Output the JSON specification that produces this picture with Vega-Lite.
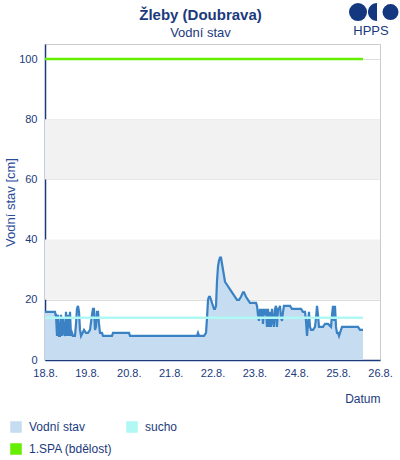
{
  "$schema": "https://vega.github.io/schema/vega-lite/v6.json",
  "width": 335,
  "height": 316,
  "autosize": "none",
  "padding": {"left": 45, "top": 44, "right": 20, "bottom": 100},
  "background": "white",
  "config": {
    "font": "Liberation Sans",
    "view": {"stroke": "#cccccc"}
  },
  "title": {
    "text": "Žleby (Doubrava)",
    "subtitle": "Vodní stav",
    "fontSize": 15,
    "fontWeight": "bold",
    "color": "#1b3a7c",
    "subtitleColor": "#1b3a7c",
    "subtitleFontSize": 13,
    "anchor": "middle",
    "dx": -12,
    "dy": 41,
    "offset": 4,
    "subtitlePadding": 4
  },
  "datasets": {
    "pasma": [{"od": 20, "do": 40}, {"od": 60, "do": 80}],
    "meze": [
      {"nazev": "sucho", "cm": 14, "od": 18, "do": 25.594},
      {"nazev": "1.SPA (bdělost)", "cm": 100, "od": 18, "do": 25.594}
    ],
    "stav": [
      {"den": 18.000, "cm": 16}, {"den": 18.239, "cm": 16}, {"den": 18.251, "cm": 15}, {"den": 18.263, "cm": 15},
      {"den": 18.287, "cm": 8}, {"den": 18.310, "cm": 15}, {"den": 18.334, "cm": 8}, {"den": 18.358, "cm": 8},
      {"den": 18.382, "cm": 15}, {"den": 18.406, "cm": 8}, {"den": 18.430, "cm": 14}, {"den": 18.454, "cm": 9},
      {"den": 18.478, "cm": 8}, {"den": 18.501, "cm": 16}, {"den": 18.525, "cm": 8}, {"den": 18.549, "cm": 15},
      {"den": 18.573, "cm": 8}, {"den": 18.597, "cm": 16}, {"den": 18.621, "cm": 8}, {"den": 18.645, "cm": 9},
      {"den": 18.669, "cm": 8}, {"den": 18.716, "cm": 8}, {"den": 18.740, "cm": 12}, {"den": 18.764, "cm": 17},
      {"den": 18.788, "cm": 18}, {"den": 18.812, "cm": 16}, {"den": 18.836, "cm": 10}, {"den": 18.860, "cm": 8},
      {"den": 18.931, "cm": 10}, {"den": 18.979, "cm": 9}, {"den": 19.027, "cm": 9}, {"den": 19.075, "cm": 10},
      {"den": 19.122, "cm": 15}, {"den": 19.146, "cm": 17}, {"den": 19.170, "cm": 17}, {"den": 19.194, "cm": 10},
      {"den": 19.218, "cm": 11}, {"den": 19.242, "cm": 16}, {"den": 19.266, "cm": 16}, {"den": 19.290, "cm": 12},
      {"den": 19.313, "cm": 9}, {"den": 19.361, "cm": 9}, {"den": 19.385, "cm": 8}, {"den": 19.600, "cm": 8},
      {"den": 19.624, "cm": 9}, {"den": 20.006, "cm": 9}, {"den": 20.030, "cm": 8}, {"den": 21.630, "cm": 8},
      {"den": 21.654, "cm": 9}, {"den": 21.678, "cm": 8}, {"den": 21.797, "cm": 8}, {"den": 21.845, "cm": 9},
      {"den": 21.869, "cm": 14}, {"den": 21.893, "cm": 20}, {"den": 21.916, "cm": 21}, {"den": 21.940, "cm": 21},
      {"den": 21.964, "cm": 20}, {"den": 21.988, "cm": 19}, {"den": 22.012, "cm": 18}, {"den": 22.036, "cm": 17},
      {"den": 22.060, "cm": 17}, {"den": 22.084, "cm": 18}, {"den": 22.107, "cm": 26}, {"den": 22.131, "cm": 31},
      {"den": 22.155, "cm": 33}, {"den": 22.179, "cm": 34}, {"den": 22.203, "cm": 34}, {"den": 22.227, "cm": 32},
      {"den": 22.251, "cm": 30}, {"den": 22.275, "cm": 28}, {"den": 22.299, "cm": 26}, {"den": 22.346, "cm": 25},
      {"den": 22.394, "cm": 24}, {"den": 22.442, "cm": 23}, {"den": 22.490, "cm": 22}, {"den": 22.537, "cm": 21},
      {"den": 22.585, "cm": 20}, {"den": 22.633, "cm": 20}, {"den": 22.681, "cm": 21}, {"den": 22.728, "cm": 22.5},
      {"den": 22.752, "cm": 22.5}, {"den": 22.800, "cm": 21}, {"den": 22.848, "cm": 20}, {"den": 22.896, "cm": 19},
      {"den": 22.967, "cm": 19}, {"den": 23.039, "cm": 19}, {"den": 23.063, "cm": 18}, {"den": 23.087, "cm": 15},
      {"den": 23.110, "cm": 13}, {"den": 23.134, "cm": 17}, {"den": 23.158, "cm": 14}, {"den": 23.182, "cm": 17},
      {"den": 23.206, "cm": 12}, {"den": 23.230, "cm": 17}, {"den": 23.254, "cm": 15}, {"den": 23.278, "cm": 17},
      {"den": 23.301, "cm": 11}, {"den": 23.325, "cm": 17}, {"den": 23.349, "cm": 11}, {"den": 23.373, "cm": 16},
      {"den": 23.397, "cm": 11}, {"den": 23.421, "cm": 17}, {"den": 23.445, "cm": 13}, {"den": 23.469, "cm": 11},
      {"den": 23.493, "cm": 17}, {"den": 23.516, "cm": 18}, {"den": 23.540, "cm": 11}, {"den": 23.564, "cm": 17},
      {"den": 23.588, "cm": 17}, {"den": 23.612, "cm": 18}, {"den": 23.636, "cm": 14}, {"den": 23.660, "cm": 13},
      {"den": 23.684, "cm": 16}, {"den": 23.707, "cm": 18}, {"den": 23.755, "cm": 18}, {"den": 23.851, "cm": 18},
      {"den": 23.899, "cm": 17}, {"den": 24.042, "cm": 17}, {"den": 24.113, "cm": 17}, {"den": 24.161, "cm": 16},
      {"den": 24.209, "cm": 16}, {"den": 24.233, "cm": 13}, {"den": 24.257, "cm": 8}, {"den": 24.281, "cm": 12},
      {"den": 24.304, "cm": 16}, {"den": 24.328, "cm": 11}, {"den": 24.352, "cm": 10}, {"den": 24.400, "cm": 10},
      {"den": 24.448, "cm": 11}, {"den": 24.472, "cm": 14}, {"den": 24.496, "cm": 18}, {"den": 24.519, "cm": 15},
      {"den": 24.543, "cm": 11}, {"den": 24.591, "cm": 11}, {"den": 24.639, "cm": 11}, {"den": 24.687, "cm": 12},
      {"den": 24.758, "cm": 12}, {"den": 24.830, "cm": 11}, {"den": 24.854, "cm": 15}, {"den": 24.878, "cm": 18},
      {"den": 24.901, "cm": 13}, {"den": 24.925, "cm": 18}, {"den": 24.949, "cm": 11}, {"den": 24.973, "cm": 9},
      {"den": 24.997, "cm": 9}, {"den": 25.021, "cm": 8}, {"den": 25.045, "cm": 9}, {"den": 25.093, "cm": 11},
      {"den": 25.284, "cm": 11}, {"den": 25.475, "cm": 11}, {"den": 25.522, "cm": 10}, {"den": 25.594, "cm": 10}
    ]
  },
  "layer": [
    {
      "data": {"name": "pasma"},
      "mark": {"type": "rect", "fill": "#f2f2f2"},
      "encoding": {
        "y": {
          "field": "od", "type": "quantitative",
          "scale": {"domain": [0, 105], "nice": false},
          "axis": {
            "values": [0, 20, 40, 60, 80, 100],
            "title": "Vodní stav [cm]",
            "titleFontSize": 13,
            "titleFontWeight": "normal",
            "titleColor": "#2b4c98",
            "titlePadding": 1,
            "labelFontSize": 11,
            "labelColor": "#1b3a7c",
            "labelPadding": 8,
            "ticks": false,
            "grid": true,
            "gridColor": "#dddddd",
            "domainColor": "#1b3a7c",
            "domainWidth": 1.5
          }
        },
        "y2": {"field": "do"}
      }
    },
    {
      "data": {"name": "stav"},
      "mark": {"type": "area", "interpolate": "linear", "fillOpacity": 1},
      "encoding": {
        "x": {
          "field": "den", "type": "quantitative",
          "scale": {"domain": [18, 26], "nice": false, "zero": false},
          "axis": {
            "values": [18, 19, 20, 21, 22, 23, 24, 25, 26],
            "labelExpr": "datum.value + '.8.'",
            "labelFlush": false,
            "labelOverlap": false,
            "title": "Datum",
            "titleFontSize": 12,
            "titleFontWeight": "normal",
            "titleColor": "#1b3a7c",
            "titleAnchor": "end",
            "titlePadding": 15,
            "labelFontSize": 11,
            "labelColor": "#1b3a7c",
            "labelPadding": 7,
            "ticks": false,
            "grid": false,
            "domainColor": "#1b3a7c",
            "domainWidth": 1.5
          }
        },
        "y": {"field": "cm", "type": "quantitative"},
        "color": {
          "datum": "Vodní stav",
          "type": "nominal",
          "scale": {
            "domain": ["Vodní stav", "sucho", "1.SPA (bdělost)"],
            "range": ["#c6dcf0", "#b0f8f4", "#66ee00"]
          },
          "legend": {
            "orient": "none",
            "legendX": -35,
            "legendY": 377,
            "direction": "horizontal",
            "columns": 2,
            "title": null,
            "symbolType": "square",
            "symbolSize": 100,
            "labelFontSize": 12,
            "labelColor": "#1b3a7c",
            "labelOffset": 7,
            "columnPadding": 11,
            "rowPadding": 6
          }
        }
      }
    },
    {
      "data": {"name": "stav"},
      "mark": {"type": "line", "interpolate": "linear", "color": "#3a82c4", "strokeWidth": 2.2},
      "encoding": {
        "x": {"field": "den", "type": "quantitative"},
        "y": {"field": "cm", "type": "quantitative"}
      }
    },
    {
      "data": {"name": "meze"},
      "mark": {"type": "rule", "strokeWidth": 2.5},
      "encoding": {
        "x": {"field": "od", "type": "quantitative"},
        "x2": {"field": "do"},
        "y": {"field": "cm", "type": "quantitative"},
        "color": {"field": "nazev", "type": "nominal", "legend": {"title": null}}
      }
    },
    {
      "data": {"values": [{"znacka": "HPPS"}]},
      "mark": {"type": "text", "fontSize": 13, "color": "#1b3a7c", "align": "center", "baseline": "alphabetic"},
      "encoding": {
        "x": {"datum": 25.785, "type": "quantitative"},
        "y": {"datum": 108, "type": "quantitative"},
        "text": {"field": "znacka"}
      }
    },
    {
      "data": {"values": [{"znacka": "logo"}]},
      "mark": {"type": "point", "shape": "circle", "filled": true, "color": "#14387f", "opacity": 1, "size": 324},
      "encoding": {
        "x": {"datum": 25.475, "type": "quantitative"},
        "y": {"datum": 115.6, "type": "quantitative"}
      }
    },
    {
      "data": {"values": [{"znacka": "logo"}]},
      "mark": {"type": "point", "shape": "M 0 -1 A 1 1 0 0 0 0 1 Z", "filled": true, "color": "#14387f", "opacity": 1, "size": 324},
      "encoding": {
        "x": {"datum": 25.928, "type": "quantitative"},
        "y": {"datum": 115.6, "type": "quantitative"}
      }
    },
    {
      "data": {"values": [{"znacka": "logo"}]},
      "mark": {"type": "point", "shape": "circle", "filled": true, "color": "#14387f", "opacity": 1, "size": 256},
      "encoding": {
        "x": {"datum": 26.251, "type": "quantitative"},
        "y": {"datum": 115.6, "type": "quantitative"}
      }
    }
  ]
}
